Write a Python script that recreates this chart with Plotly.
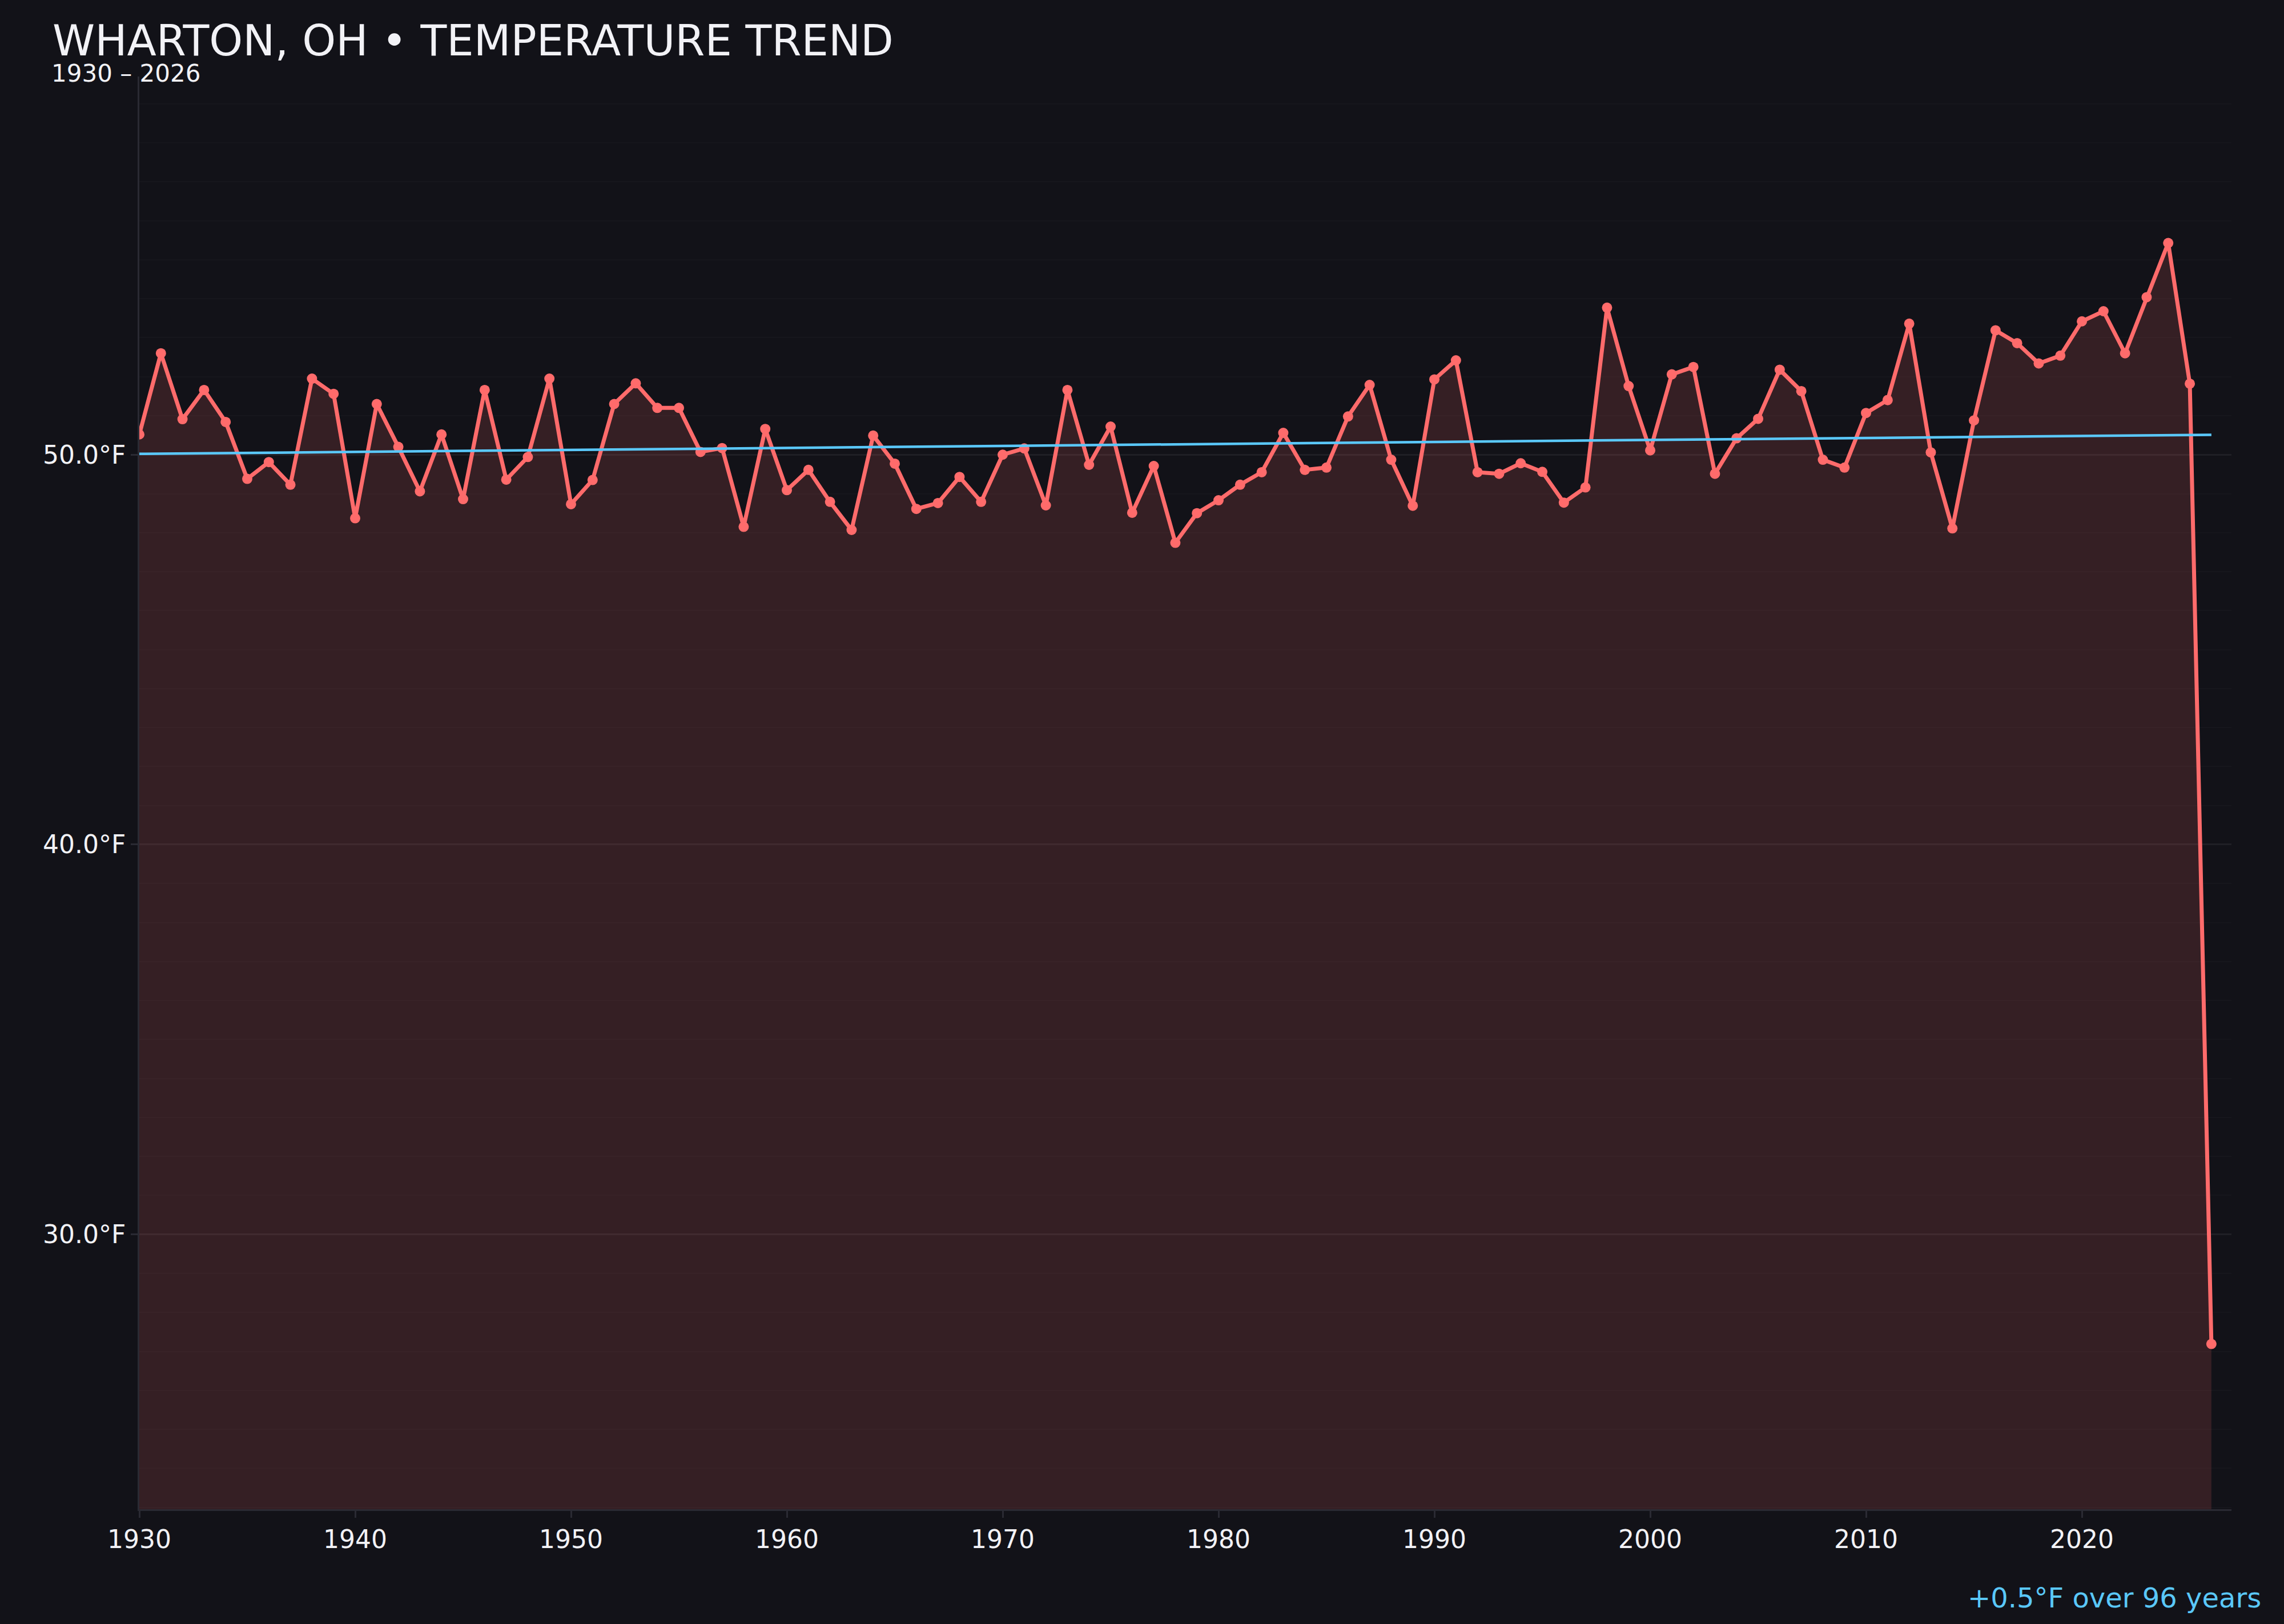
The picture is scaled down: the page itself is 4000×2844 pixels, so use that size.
import plotly.graph_objects as go

# annual mean temperature
years = list(range(1930, 2027))
temps = [
    50.52, 52.60, 50.91, 51.66, 50.84, 49.38, 49.81, 49.23, 51.95, 51.56,  # 1930s
    48.37, 51.30, 50.20, 49.06, 50.52, 48.86, 51.66, 49.36, 49.94, 51.95,  # 1940s
    48.73, 49.35, 51.30, 51.83, 51.20, 51.20, 50.07, 50.17, 48.15, 50.66,  # 1950s
    49.09, 49.61, 48.79, 48.07, 50.49, 49.77, 48.61, 48.76, 49.43, 48.79,  # 1960s
    50.00, 50.16, 48.70, 51.66, 49.74, 50.72, 48.51, 49.71, 47.74, 48.50,  # 1970s
    48.83, 49.23, 49.55, 50.56, 49.61, 49.67, 50.98, 51.79, 49.87, 48.69,  # 1980s
    51.93, 52.42, 49.55, 49.51, 49.78, 49.56, 48.77, 49.16, 53.77, 51.76,  # 1990s
    50.11, 52.06, 52.25, 49.51, 50.42, 50.92, 52.18, 51.63, 49.87, 49.67,  # 2000s
    51.07, 51.40, 53.36, 50.06, 48.11, 50.88, 53.19, 52.86, 52.34, 52.54,  # 2010s
    53.42, 53.68, 52.60, 54.04, 55.43, 51.82, 27.19,                      # 2020s
]

# linear trend end points (as drawn)
trend_years = [1930, 2026]
trend_temps = [50.02, 50.51]

title = "WHARTON, OH • TEMPERATURE TREND"
subtitle = "1930 – 2026"
trend_note = "+0.5°F over 96 years"

W, H = 4000, 2844
ML, MR, MT, MB = 244, 92, 134, 201
PW, PH = W - ML - MR, H - MT - MB

BG = "#121218"
RED = "#ff6b6b"
BLUE = "#5ac8fa"
TXT = "#f2f2f6"
FONT = "DejaVu Sans"

fig = go.Figure()

fig.add_trace(go.Scatter(
    x=years, y=temps,
    mode="lines+markers",
    line=dict(color=RED, width=7),
    marker=dict(color=RED, size=18),
    fill="tozeroy",
    fillcolor="rgba(255,107,107,0.15)",
    showlegend=False,
))

fig.add_trace(go.Scatter(
    x=trend_years, y=trend_temps,
    mode="lines",
    line=dict(color=BLUE, width=4.5),
    showlegend=False,
))

fig.update_layout(
    width=W, height=H,
    paper_bgcolor=BG,
    plot_bgcolor=BG,
    font=dict(family=FONT, color=TXT, size=44),
    margin=dict(l=ML, r=MR, t=MT, b=MB),
    title=dict(
        text=title,
        font=dict(family=FONT, size=75, color=TXT),
        xref="container", x=92 / W, xanchor="left",
        yref="container", y=1 - 44 / H, yanchor="top",
    ),
    annotations=[
        dict(
            text=subtitle, xref="paper", yref="paper",
            x=(88 - ML) / PW, y=1 - 21 / PH, xanchor="left", yanchor="bottom",
            showarrow=False, font=dict(size=42, color=TXT),
        ),
        dict(
            text=trend_note, xref="paper", yref="paper",
            x=(3962 - ML) / PW, y=-(2828 - (H - MB)) / PH,
            xanchor="right", yanchor="bottom",
            showarrow=False, font=dict(size=48, color=BLUE),
        ),
    ],
)

fig.update_xaxes(
    range=[1930, 2026.93],
    dtick=10, tick0=1930,
    showgrid=False, zeroline=False,
    showline=True, linecolor="#2a2a33", linewidth=3,
    ticks="outside", ticklen=12, tickwidth=3, tickcolor="#2a2a33",
    tickfont=dict(size=44, color=TXT),
)

fig.update_yaxes(
    range=[22.95, 59.7],
    dtick=10, tick0=0,
    ticksuffix="°F", tickformat=".1f",
    showgrid=True, gridcolor="rgba(255,255,255,0.06)", gridwidth=3,
    minor=dict(dtick=1, showgrid=True, gridcolor="rgba(255,255,255,0.02)", gridwidth=1.5),
    zeroline=False,
    showline=True, linecolor="#2a2a33", linewidth=3,
    ticks="outside", ticklen=12, tickwidth=3, tickcolor="#2a2a33",
    tickfont=dict(size=44, color=TXT),
)

fig.write_html(
    "out.html",
    config={"displayModeBar": False},
    post_script="document.body.style.margin='0';document.body.style.background='%s';" % BG,
)
